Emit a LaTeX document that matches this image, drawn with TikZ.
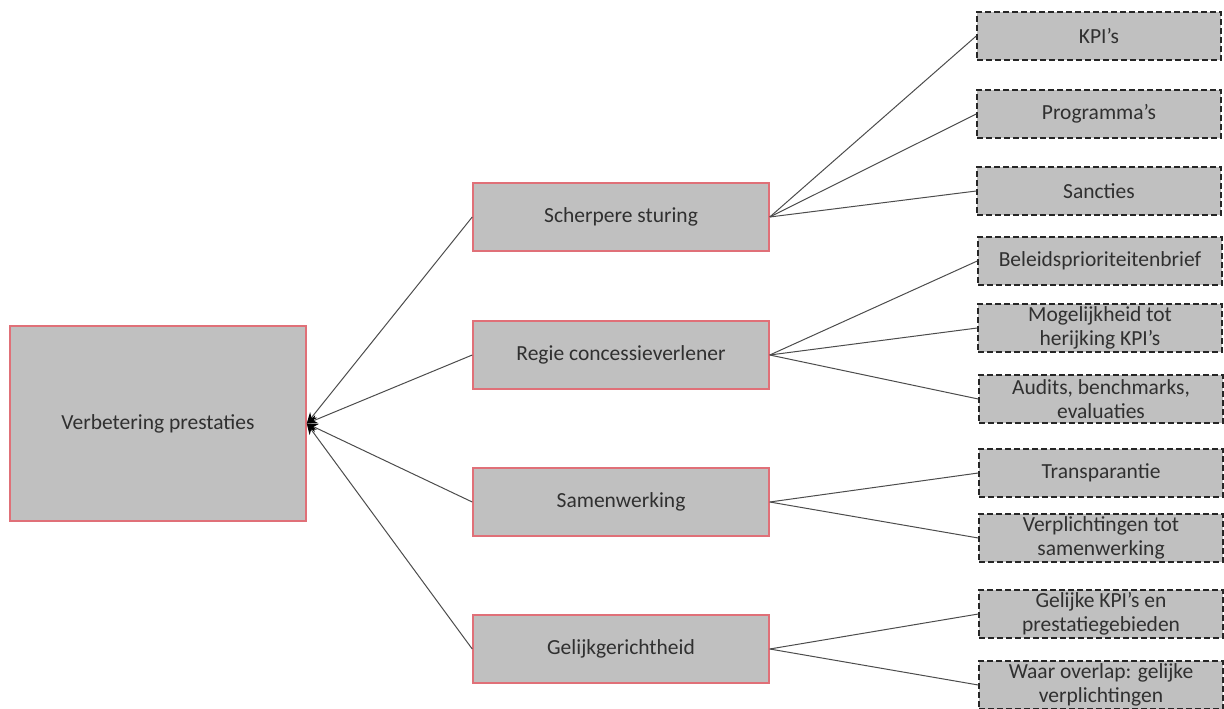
\documentclass[tikz,border=0pt]{standalone}
\usepackage{fontspec}
\setmainfont{Carlito}
\usepackage{xcolor}
\usetikzlibrary{arrows.meta,positioning}
\definecolor{boxgray}{HTML}{C0C0C0}
\definecolor{boxred}{HTML}{E07078}
\definecolor{txtgray}{HTML}{303030}

\begin{document}
\begin{tikzpicture}[
  x=1pt, y=-1pt,
  font=\fontsize{21.5}{24.5}\selectfont, text=txtgray,
  root/.style={draw=boxred, line width=1.5pt, fill=boxgray,
               minimum width=296pt, minimum height=195pt, inner sep=0pt},
  mid/.style={draw=boxred, line width=1.5pt, fill=boxgray,
              minimum width=296pt, minimum height=68pt, inner sep=0pt},
  leaf/.style={draw=black!85, line width=1.5pt, dash pattern=on 6pt off 3pt,
               fill=boxgray, align=center, minimum width=244pt,
               minimum height=48pt, inner sep=0pt},
  link/.style={draw=black!70, line width=1pt},
  arr/.style={link, -{Stealth[length=11pt, width=9pt, color=black]}}
]
\useasboundingbox (0,0) rectangle (1224,709);
% main box
\node[root] (verb) at (158,423.5) {Verbetering prestaties};
% middle column
\node[mid] (sturing) at (621,217) {Scherpere sturing};
\node[mid] (regie) at (621,355) {Regie concessieverlener};
\node[mid] (samen) at (621,502) {Samenwerking};
\node[mid] (gelijk) at (621,649) {Gelijkgerichtheid};
% right column
\node[leaf] (kpi) at (1099,36) {KPI’s};
\node[leaf] (progr) at (1099,114) {Programma’s};
\node[leaf] (sanc) at (1099,191) {Sancties};
\node[leaf] (beleid) at (1100,261) {Beleidsprioriteitenbrief};
\node[leaf] (herijk) at (1100,328) {Mogelijkheid tot\\herijking KPI’s};
\node[leaf] (audit) at (1101,399) {Audits, benchmarks,\\evaluaties};
\node[leaf] (transp) at (1101,473) {Transparantie};
\node[leaf] (verpl) at (1101,538) {Verplichtingen tot\\samenwerking};
\node[leaf] (gkpi) at (1101,614) {Gelijke KPI’s en\\prestatiegebieden};
\node[leaf] (overlap) at (1101,685) {Waar overlap: gelijke\\verplichtingen};
% connectors to main box
\draw[arr] (sturing.west) -- (verb.east);
\draw[arr] (regie.west) -- (verb.east);
\draw[arr] (samen.west) -- (verb.east);
\draw[arr] (gelijk.west) -- (verb.east);
% connectors to right column
\draw[link] (sturing.east) -- (kpi.west);
\draw[link] (sturing.east) -- (progr.west);
\draw[link] (sturing.east) -- (sanc.west);
\draw[link] (regie.east) -- (beleid.west);
\draw[link] (regie.east) -- (herijk.west);
\draw[link] (regie.east) -- (audit.west);
\draw[link] (samen.east) -- (transp.west);
\draw[link] (samen.east) -- (verpl.west);
\draw[link] (gelijk.east) -- (gkpi.west);
\draw[link] (gelijk.east) -- (overlap.west);
\end{tikzpicture}
\end{document}
